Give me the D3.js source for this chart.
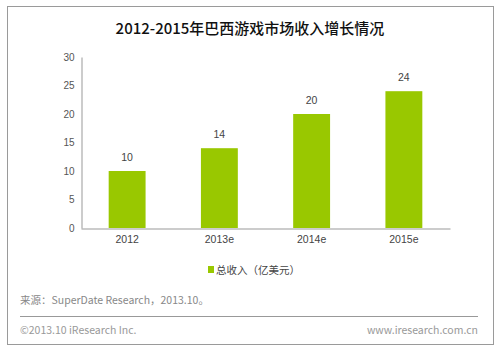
<!DOCTYPE html>
<html>
<head>
<meta charset="utf-8">
<script src="https://cdn.jsdelivr.net/npm/d3@7"></script>
<style>
  body { margin: 0; background: #fff; }
  #container { width: 500px; height: 347px; }
  text { font-family: "Noto Sans CJK SC", "Liberation Sans", sans-serif; }
</style>
</head>
<body>
<div id="container"></div>
<script>
const years = ["2012", "2013e", "2014e", "2015e"];
const revenue = [10, 14, 20, 24];
const yTicks = [0, 5, 10, 15, 20, 25, 30];
const seriesName = "总收入（亿美元）";
const title = "2012-2015年巴西游戏市场收入增长情况";
const source = "来源：SuperDate Research，2013.10。";

const container = document.getElementById("container");
const W = 500, H = 347;
const green = "#99c800";

const svg = d3.select(container)
    .append("svg")
    .attr("width", W)
    .attr("height", H);

// frame
svg.append("rect")
    .attr("x", 7.5).attr("y", 6.5)
    .attr("width", 486).attr("height", 338)
    .attr("fill", "none")
    .attr("stroke", "#9a9a9a");

svg.append("text")
    .attr("x", 250).attr("y", 34)
    .attr("text-anchor", "middle")
    .attr("font-size", 15)
    .attr("font-weight", 500)
    .attr("fill", "#111")
    .text(title);

let x = d3.scaleBand()
    .domain(years)
    .range([81, 450])
    .paddingInner(0.6)
    .paddingOuter(0.3);

let y = d3.scaleLinear()
    .domain([0, 30])
    .range([228, 57]);

// y axis
const yAxis = svg.append("g")
    .attr("transform", "translate(81.5,0)")
    .call(d3.axisLeft(y).tickValues(yTicks).tickSize(0).tickPadding(7));
yAxis.select(".domain").attr("stroke", "#999");
yAxis.selectAll("text")
    .attr("fill", "#555")
    .attr("font-size", 10)
    .style("font-family", "'Liberation Sans', sans-serif");

// bars
svg.selectAll("rect.bar")
    .data(revenue)
    .enter()
    .append("rect")
    .attr("class", "bar")
    .attr("x", (d, i) => x(years[i]))
    .attr("y", (d) => y(d))
    .attr("width", x.bandwidth())
    .attr("height", (d) => y(0) - y(d))
    .attr("fill", green);

svg.selectAll("text.val")
    .data(revenue)
    .enter()
    .append("text")
    .attr("class", "val")
    .attr("x", (d, i) => x(years[i]) + x.bandwidth() / 2)
    .attr("y", (d) => y(d) - 10)
    .attr("text-anchor", "middle")
    .attr("font-size", 10.5)
    .attr("fill", "#444")
    .style("font-family", "'Liberation Sans', sans-serif")
    .text((d) => d);

// x axis
const xAxis = svg.append("g")
    .attr("transform", "translate(0,228.5)")
    .call(d3.axisBottom(x).tickSize(0).tickPadding(7).tickSizeOuter(0));
xAxis.select(".domain").attr("stroke", "#999");
xAxis.selectAll("text")
    .attr("fill", "#444")
    .attr("font-size", 10.5)
    .style("font-family", "'Liberation Sans', sans-serif");

// legend
svg.append("rect")
    .attr("x", 208).attr("y", 266)
    .attr("width", 6).attr("height", 7)
    .attr("fill", green);
svg.append("text")
    .attr("x", 216).attr("y", 274)
    .attr("font-size", 10.5)
    .attr("fill", "#444")
    .text(seriesName);

// source + footer
svg.append("text")
    .attr("x", 20).attr("y", 304)
    .attr("font-size", 10.5)
    .attr("fill", "#888")
    .text(source);

svg.append("line")
    .attr("x1", 20).attr("x2", 478)
    .attr("y1", 316.5).attr("y2", 316.5)
    .attr("stroke", "#999");

svg.append("text")
    .attr("x", 20).attr("y", 334)
    .attr("font-size", 10.5)
    .attr("fill", "#999")
    .text("©2013.10 iResearch Inc.");

svg.append("text")
    .attr("x", 478).attr("y", 334)
    .attr("text-anchor", "end")
    .attr("font-size", 10.5)
    .attr("fill", "#999")
    .text("www.iresearch.com.cn");
</script>
</body>
</html>
